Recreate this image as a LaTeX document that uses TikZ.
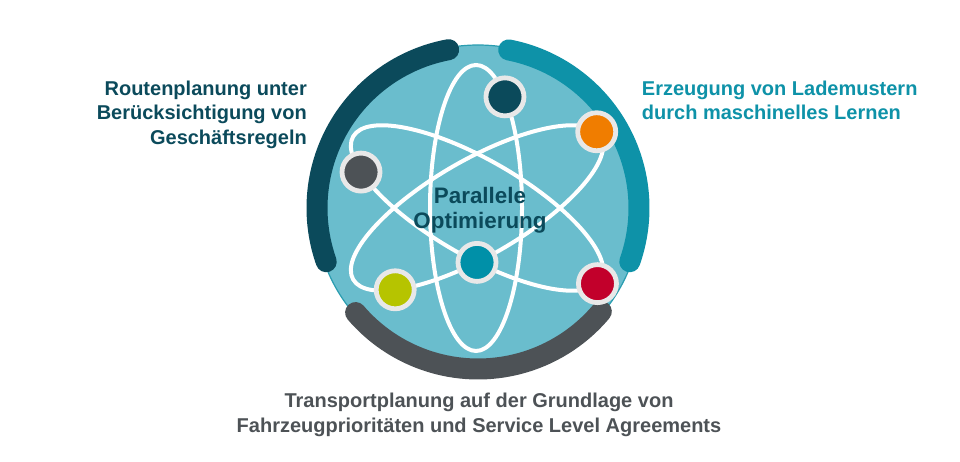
\documentclass[tikz,border=0pt]{standalone}
\usepackage{fontspec}
\setmainfont{Liberation Sans}
\definecolor{cdark}{HTML}{0B4A5B}
\definecolor{cteal}{HTML}{0E92A8}
\definecolor{cgray}{HTML}{4D5256}
\definecolor{cfill}{HTML}{6ABDCD}
\definecolor{cborder}{HTML}{2A9DB0}
\definecolor{cring}{HTML}{E8E8E8}
\definecolor{corange}{HTML}{F07D00}
\definecolor{cred}{HTML}{C2002B}
\definecolor{clime}{HTML}{B6C400}
\definecolor{cnodeteal}{HTML}{0090A8}
\begin{document}
\begin{tikzpicture}[x=1pt,y=1pt,
  band/.style={line width=21pt, line cap=round},
  orbit/.style={draw=white, line width=4pt},
  atom/.style={circle, draw=cring, line width=4.8pt, minimum size=38pt, inner sep=0pt},
  sidetext/.style={font=\bfseries\fontsize{20}{24.5}\selectfont, inner sep=0pt},
  centertext/.style={font=\bfseries\fontsize{22.4}{25}\selectfont, inner sep=0pt, align=center, text=cdark}]
\useasboundingbox (0,0) rectangle (960,462);
\coordinate (C) at (478,254);
\coordinate (E) at (477,254);
\coordinate (V) at (476,254);
% disc
\fill[cfill, draw=cborder, line width=1.2pt] (C) circle[radius=163pt];
% bands
\draw[band, cdark] ([shift={(100.5:161pt)}]C) arc[start angle=100.5, end angle=199.5, radius=161pt];
\draw[band, cgray] ([shift={(220.5:161pt)}]C) arc[start angle=220.5, end angle=320, radius=161pt];
\draw[band, cteal] ([shift={(-19.5:161pt)}]C) arc[start angle=-19.5, end angle=79, radius=161pt];
% orbits
\begin{scope}[shift={(V)}]
  \draw[orbit] (0,0) ellipse[x radius=46pt, y radius=143pt];
\end{scope}
\begin{scope}[shift={(E)}, rotate=30]
  \draw[orbit] (0,0) ellipse[x radius=143pt, y radius=48pt];
\end{scope}
\begin{scope}[shift={(E)}, rotate=150]
  \draw[orbit] (0,0) ellipse[x radius=143pt, y radius=48pt];
\end{scope}
% atoms
\begin{scope}[shift={(V)}]
  \node[atom, fill=cdark] (ndark) at (51:46 and 143) {};
\end{scope}
\begin{scope}[shift={(E)}, rotate=30]
  \node[atom, fill=corange] (norange) at (7.4:143 and 48) {};
  \node[atom, fill=clime] (nlime) at (218.6:143 and 48) {};
\end{scope}
\begin{scope}[shift={(E)}, rotate=150]
  \node[atom, fill=cgray] (ngray) at (34.1:143 and 48) {};
  \node[atom, fill=cred] (nred) at (173.7:143 and 48) {};
\end{scope}
\node[atom, fill=cnodeteal] (nteal) at ([yshift=-54.4pt]E) {};
% texts
\node[centertext, anchor=north] (center) at (480,275.3) {Parallele\\Optimierung};
\node[sidetext, anchor=north east, align=right, text=cdark] (left) at (307,381.3)
  {Routenplanung unter\\Berücksichtigung von\\Geschäftsregeln};
\node[sidetext, anchor=north west, align=left, text=cteal] (right) at (641.7,381.3)
  {Erzeugung von Lademustern\\durch maschinelles Lernen};
\node[sidetext, anchor=north, align=center, text=cgray] (bottom) at (479,68.7)
  {Transportplanung auf der Grundlage von\\Fahrzeugprioritäten und Service Level Agreements};
\end{tikzpicture}
\end{document}
